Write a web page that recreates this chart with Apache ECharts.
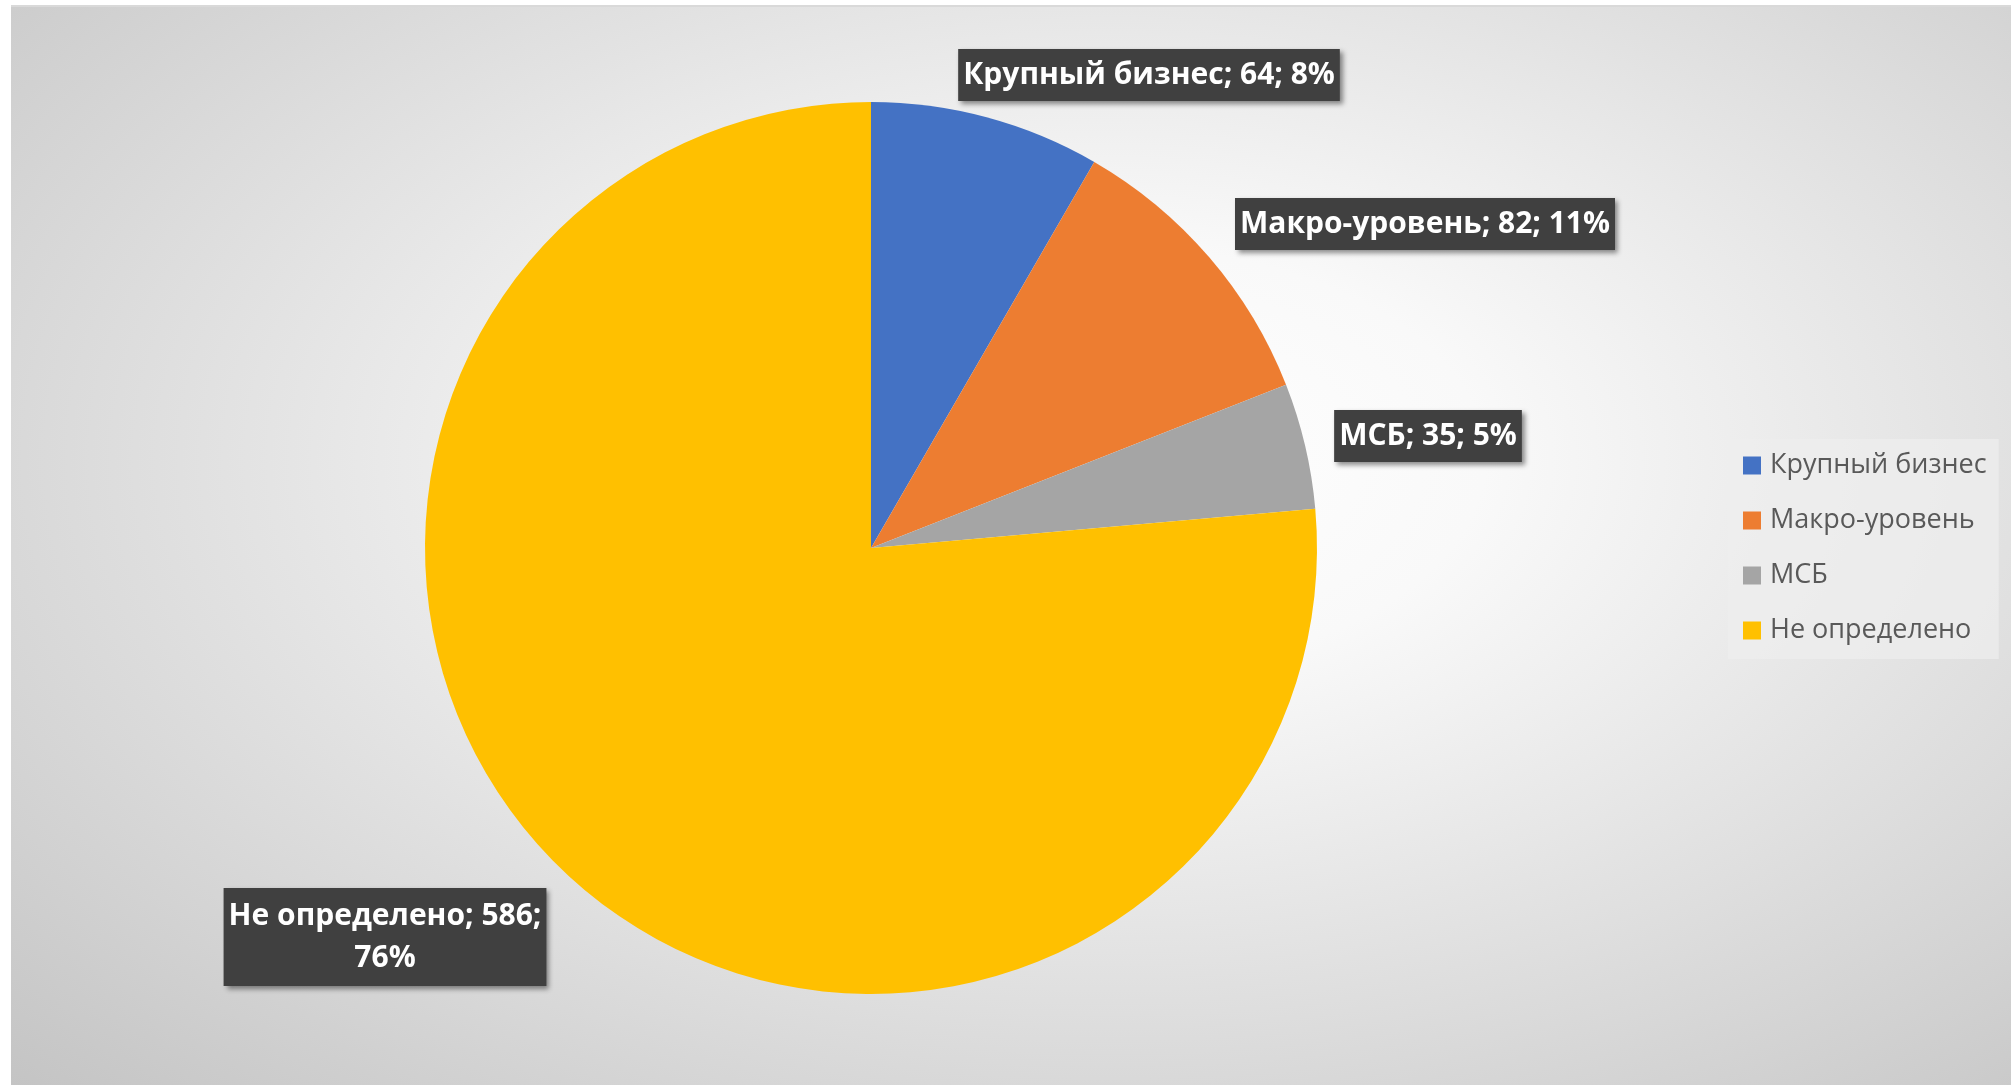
<!DOCTYPE html>
<html>
<head>
<meta charset="utf-8">
<script src="https://cdn.jsdelivr.net/npm/echarts@6/dist/echarts.min.js"></script>
<style>
  html, body { margin: 0; padding: 0; background: #ffffff; width: 2011px; height: 1085px; overflow: hidden; }
  #bg { position: absolute; left: 11px; top: 5px; width: 2000px; height: 1080px;
        border-top: 2px solid #d9d9d9; box-sizing: border-box;
        background: radial-gradient(ellipse farthest-corner at 55% 42%, #ffffff 0%, #f9f9f9 24%, #c4c4c4 100%); }
  #chart { position: absolute; left: 0; top: 0; width: 2011px; height: 1085px; }
</style>
</head>
<body>
<div id="bg"></div>
<div id="chart"></div>
<script>
const categories = ['Крупный бизнес', 'Макро-уровень', 'МСБ', 'Не определено'];
const values = [64, 82, 35, 586];
const colors = ['#4472C4', '#ED7D31', '#A5A5A5', '#FFC000'];
// label box centres (layout only)
const labelCenters = [[1149, 75], [1425, 224], [1428, 436], [385, 937]];

const chart = echarts.init(document.getElementById('chart'), null, { renderer: 'canvas' });

const data = categories.map((name, i) => {
  const item = { name: name, value: values[i], itemStyle: { color: colors[i] } };
  if (i === 3) {
    item.label = { formatter: '{b}; {c};\n{d}%', lineHeight: 42 };
  }
  return item;
});

chart.setOption({
  backgroundColor: 'transparent',
  animation: false,
  legend: {
    orient: 'vertical',
    left: 1728,
    top: 439,
    padding: [13, 12, 15, 15],
    backgroundColor: 'rgba(238,238,238,0.75)',
    itemWidth: 18,
    itemHeight: 18,
    itemGap: 28,
    icon: 'rect',
    selectedMode: false,
    textStyle: { fontFamily: 'Open Sans', fontSize: 27, color: '#595959', lineHeight: 27, padding: [0, 0, 0, 4] },
    data: categories
  },
  series: [{
    type: 'pie',
    center: [871, 548],
    radius: 446,
    startAngle: 90,
    clockwise: true,
    percentPrecision: 0,
    emphasis: { disabled: true },
    labelLine: { show: false },
    label: {
      show: true,
      position: 'outside',
      formatter: '{b}; {c}; {d}%',
      fontFamily: 'Open Sans',
      fontWeight: 'bold',
      fontSize: 30,
      lineHeight: 38,
      color: '#ffffff',
      backgroundColor: '#404040',
      padding: [7, 5, 7, 5],
      align: 'center',
      shadowBlur: 5,
      shadowOffsetX: 3,
      shadowOffsetY: 3,
      shadowColor: 'rgba(0,0,0,0.45)'
    },
    labelLayout: function (params) {
      const c = labelCenters[params.dataIndex];
      return { x: c[0], y: c[1], align: 'center', verticalAlign: 'middle' };
    },
    data: data
  }]
});
</script>
</body>
</html>
